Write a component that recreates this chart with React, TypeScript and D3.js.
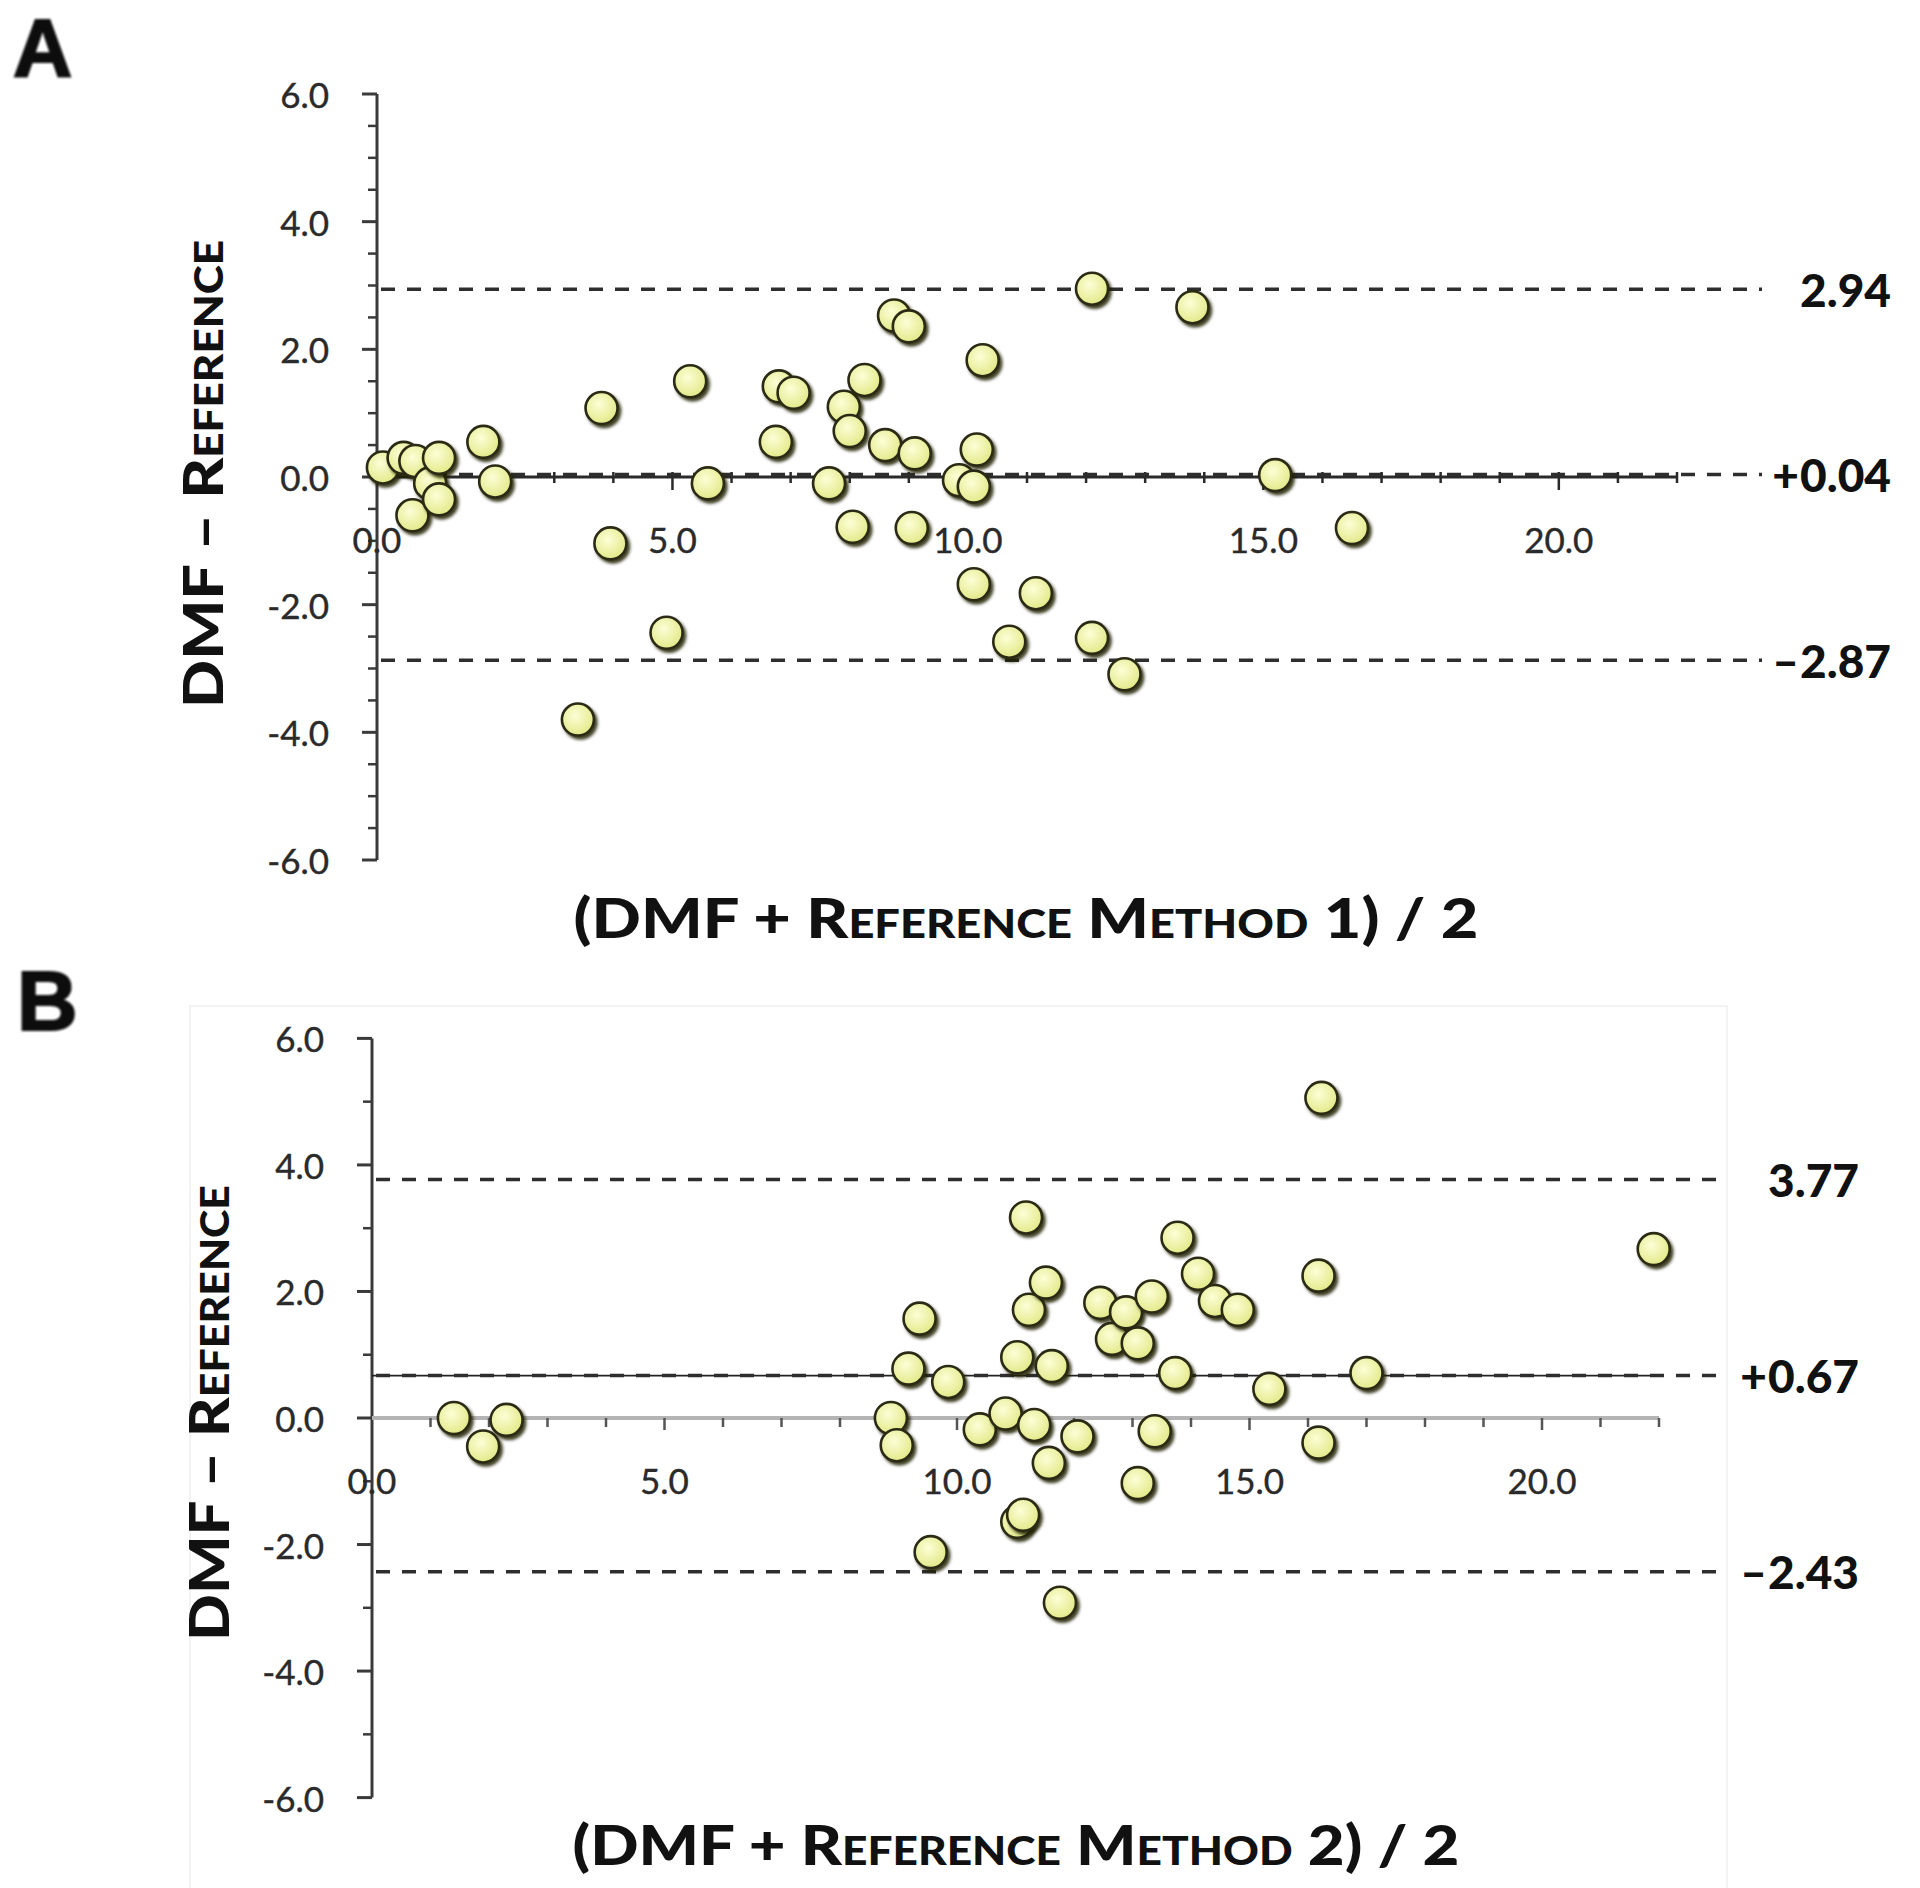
import React from "react";
import * as d3 from "d3";

// ---------- data ----------
const aX = [0.1, 0.45, 0.65, 0.6, 0.9, 1.05, 1.05, 1.8, 2.0, 3.8, 3.95, 3.4, 4.9, 5.3, 5.6, 6.75, 6.8, 7.05, 7.65, 7.9, 8.0, 8.25, 8.05, 8.6, 8.75, 9.0, 9.1, 9.05, 9.85, 10.1, 10.15, 10.25, 10.1, 10.7, 11.15, 12.1, 12.1, 12.65, 13.8, 15.2, 16.5];
const aY = [0.15, 0.3, 0.25, -0.6, -0.1, -0.35, 0.3, 0.55, -0.07, 1.08, -1.04, -3.8, -2.44, 1.5, -0.1, 0.55, 1.42, 1.32, -0.1, 1.1, 0.72, 1.52, -0.78, 0.5, 2.53, 2.36, 0.37, -0.8, -0.05, -0.15, 0.43, 1.83, -1.68, -2.58, -1.82, 2.95, -2.52, -3.09, 2.66, 0.03, -0.8];

const bX = [1.4, 1.9, 2.3, 8.87, 8.97, 9.17, 9.36, 9.55, 9.85, 10.39, 10.83, 11.03, 11.13, 11.03, 11.18, 11.23, 11.32, 11.52, 11.57, 11.62, 11.76, 12.06, 12.45, 12.65, 12.89, 13.09, 13.09, 13.33, 13.38, 13.73, 13.77, 14.12, 14.41, 14.8, 15.34, 16.18, 16.18, 16.23, 17.0, 21.91];
const bY = [0.0, -0.45, -0.03, 0.0, -0.43, 0.78, 1.57, -2.12, 0.57, -0.18, 0.07, -1.64, -1.53, 0.96, 3.17, 1.71, -0.11, 2.14, -0.71, 0.82, -2.92, -0.29, 1.82, 1.25, 1.67, 1.18, -1.03, 1.92, -0.21, 0.71, 2.85, 2.28, 1.85, 1.71, 0.46, 2.25, -0.39, 5.06, 0.71, 2.67];

const aLimits = [2.94, 0.04, -2.87];
const aLimitLabels = ["2.94", "+0.04", "\u20132.87"];
const bLimits = [3.77, 0.67, -2.43];
const bLimitLabels = ["3.77", "+0.67", "\u20132.43"];

const yTickValues = [-6, -4, -2, 0, 2, 4, 6];
const xTickValues = [0, 5, 10, 15, 20];
const xDomain = [0, 22];
const yDomain = [-6, 6];

const panelLetters = ["A", "B"];
const xTitles = ["(DMF + Reference Method 1) / 2", "(DMF + Reference Method 2) / 2"];
const yTitle = "DMF \u2013 Reference";

// ---------- layout ----------
type PanelCfg = {
  xs: number[];
  ys: number[];
  limits: number[];
  limitLabels: string[];
  xRange: [number, number];
  yRange: [number, number];
  lineEnd: number;
  digitX: number;
  letter: string;
  letterPos: [number, number];
  letterSize: number;
  xTitle: string;
  xTitlePos: [number, number];
  xTitleLen: number;
  yTitlePos: [number, number];
  yTitleLen: number;
  yMinorStep: number;
  greyZero: boolean;
  box?: [number, number, number, number];
};

const FONT = "'Lato', 'Open Sans', 'DejaVu Sans', sans-serif";

function Panel({ cfg }: { cfg: PanelCfg }) {
  const x = d3.scaleLinear().domain(xDomain).range(cfg.xRange);
  const y = d3.scaleLinear().domain(yDomain).range(cfg.yRange);
  const x0 = x(0);
  const y0 = y(0);
  const yMinor = d3.range(yDomain[0], yDomain[1] + 0.001, cfg.yMinorStep);
  const xMinor = d3.range(1, xDomain[1] + 0.001, 1);

  return (
    <g>
      {cfg.box && (
        <rect x={cfg.box[0]} y={cfg.box[1]} width={cfg.box[2]} height={cfg.box[3]} fill="none" stroke="#f3f3f3" strokeWidth={2} />
      )}
      {/* panel letter */}
      <text x={cfg.letterPos[0]} y={cfg.letterPos[1]} fontFamily="'Liberation Sans', Arial, sans-serif" fontWeight={700} fontSize={cfg.letterSize} fill="#111" stroke="#111" strokeWidth={2} style={{ filter: "url(#soft)" }}>
        {cfg.letter}
      </text>

      {/* y axis */}
      <line x1={x0} x2={x0} y1={y(yDomain[1])} y2={y(yDomain[0])} stroke="#3a3a3a" strokeWidth={3} />
      {yMinor.map((v, i) => {
        const major = Math.abs(v % 2) < 1e-6;
        return <line key={"ym" + i} x1={x0 - (major ? 15 : 9)} x2={x0} y1={y(v)} y2={y(v)} stroke="#3a3a3a" strokeWidth={major ? 3 : 2.5} />;
      })}
      {yTickValues.map((v) => (
        <text key={"yt" + v} x={x0 - 48} y={y(v)} textAnchor="end" dominantBaseline="central" fontFamily={FONT} fontSize={35} fill="#2a2a2a" stroke="#2a2a2a" strokeWidth={0.4}>
          {v.toFixed(1)}
        </text>
      ))}

      {/* x axis (zero line) */}
      <line x1={x0} x2={x(xDomain[1])} y1={y0} y2={y0} stroke={cfg.greyZero ? "#b4b4b4" : "#2a2a2a"} strokeWidth={cfg.greyZero ? 4 : 3} />
      {xMinor.map((v) => {
        const major = v % 5 === 0;
        return cfg.greyZero ? (
          <line key={"xm" + v} x1={x(v)} x2={x(v)} y1={y0} y2={y0 + (major ? 12 : 9)} stroke="#555" strokeWidth={2.5} />
        ) : (
          <line key={"xm" + v} x1={x(v)} x2={x(v)} y1={y0 - 5} y2={y0 + (major ? 13 : 6)} stroke="#2a2a2a" strokeWidth={2.5} />
        );
      })}
      {xTickValues.map((v) => (
        <text key={"xt" + v} x={x(v)} y={y0 + 62} textAnchor="middle" dominantBaseline="central" fontFamily={FONT} fontSize={35} fill="#2a2a2a" stroke="#2a2a2a" strokeWidth={0.4}>
          {v.toFixed(1)}
        </text>
      ))}

      {/* mean line solid part (panel B) */}
      {cfg.greyZero && (
        <line x1={x0} x2={x(xDomain[1])} y1={y(cfg.limits[1])} y2={y(cfg.limits[1])} stroke="#222" strokeWidth={1.6} />
      )}

      {/* limit lines */}
      {cfg.limits.map((v, i) => (
        <line key={"lim" + i} x1={x0 + 4} x2={cfg.lineEnd} y1={y(v)} y2={y(v)} stroke="#2e2e2e" strokeWidth={3.5} strokeDasharray="14 12" />
      ))}
      {cfg.limitLabels.map((lab, i) => {
        const hasSign = lab[0] === "+" || lab[0] === "\u2013";
        const sign = hasSign ? lab[0] : "";
        const num = hasSign ? lab.slice(1) : lab;
        const yy = y(cfg.limits[i]);
        return (
          <g key={"ll" + i} fontFamily={FONT} fontWeight={900} fontSize={46} fill="#111">
            {sign && (
              <text x={cfg.digitX - 1} y={yy} textAnchor="end" dominantBaseline="central">
                {sign}
              </text>
            )}
            <text x={cfg.digitX} y={yy} textAnchor="start" dominantBaseline="central">
              {num}
            </text>
          </g>
        );
      })}

      {/* points */}
      {cfg.xs.map((xv, i) => (
        <circle key={"p" + i} cx={x(xv)} cy={y(cfg.ys[i])} r={16} fill="url(#ptFill)" stroke="#2b2b12" strokeWidth={2.6} filter="url(#shadow)" />
      ))}

      {/* titles */}
      <text x={cfg.xTitlePos[0]} y={cfg.xTitlePos[1]} textAnchor="middle" dominantBaseline="central" fontFamily={FONT} fontWeight={900} fontSize={56} fill="#111" textLength={cfg.xTitleLen} lengthAdjust="spacingAndGlyphs" style={{ fontVariant: "small-caps" }}>
        {cfg.xTitle}
      </text>
      <text transform={`translate(${cfg.yTitlePos[0]},${cfg.yTitlePos[1]}) rotate(-90)`} textAnchor="middle" dominantBaseline="central" fontFamily={FONT} fontWeight={900} fontSize={56} fill="#111" textLength={cfg.yTitleLen} lengthAdjust="spacingAndGlyphs" style={{ fontVariant: "small-caps" }}>
        {yTitle}
      </text>
    </g>
  );
}

const panels: PanelCfg[] = [
  {
    xs: aX,
    ys: aY,
    limits: aLimits,
    limitLabels: aLimitLabels,
    xRange: [377, 1677],
    yRange: [860, 94],
    lineEnd: 1762,
    digitX: 1800,
    letter: panelLetters[0],
    letterPos: [13, 76],
    letterSize: 82,
    xTitle: xTitles[0],
    xTitlePos: [1026, 916],
    xTitleLen: 905,
    yTitlePos: [201, 474],
    yTitleLen: 468,
    yMinorStep: 0.5,
    greyZero: false,
  },
  {
    xs: bX,
    ys: bY,
    limits: bLimits,
    limitLabels: bLimitLabels,
    xRange: [372, 1659],
    yRange: [1797.6, 1038.4],
    lineEnd: 1728,
    digitX: 1768,
    letter: panelLetters[1],
    letterPos: [17, 1030],
    letterSize: 84,
    xTitle: xTitles[1],
    xTitlePos: [1016, 1843],
    xTitleLen: 887,
    yTitlePos: [207, 1413],
    yTitleLen: 456,
    yMinorStep: 1,
    greyZero: true,
    box: [190, 1006, 1537, 900],
  },
];

export default function App() {
  return (
    <svg width={1920} height={1888} style={{ position: "absolute", left: 0, top: 0, background: "#fff", display: "block" }}>
      <defs>
        <radialGradient id="ptFill" cx="42%" cy="38%" r="60%">
          <stop offset="0%" stopColor="#fdfed6" />
          <stop offset="100%" stopColor="#e3ea8c" />
        </radialGradient>
        <filter id="shadow" x="-60%" y="-60%" width="220%" height="220%">
          <feDropShadow dx={2.5} dy={3} stdDeviation={1.6} floodColor="#1c1c00" floodOpacity={0.85} />
        </filter>
        <filter id="soft" x="-20%" y="-20%" width="140%" height="140%">
          <feGaussianBlur stdDeviation={0.8} />
        </filter>
      </defs>
      <rect x={0} y={0} width={1920} height={1888} fill="#fff" />
      {panels.map((p, i) => (
        <Panel key={i} cfg={p} />
      ))}
    </svg>
  );
}
